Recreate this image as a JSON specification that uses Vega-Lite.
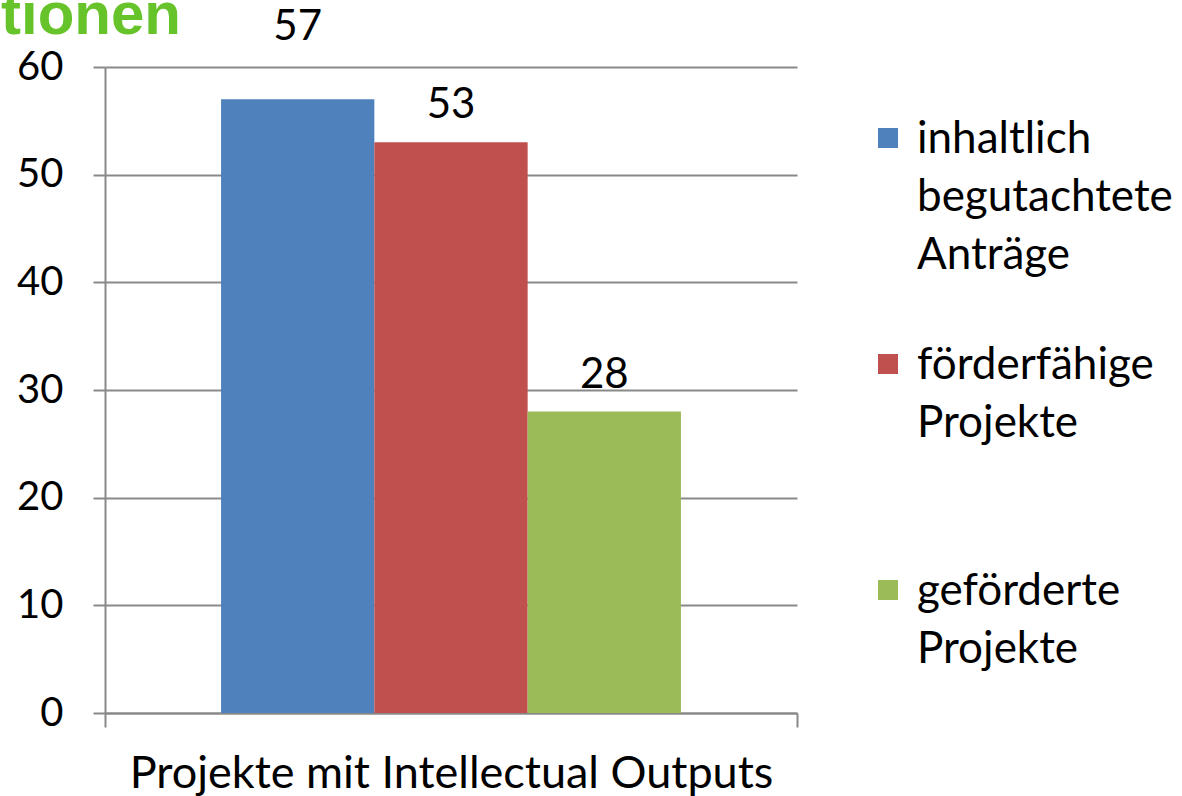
{
  "$schema": "https://vega.github.io/schema/vega-lite/v6.json",
  "width": 692,
  "height": 646,
  "autosize": "none",
  "padding": {"left": 105, "top": 67, "right": 385, "bottom": 83},
  "background": "white",
  "title": {
    "text": "tionen",
    "anchor": "start",
    "frame": "group",
    "color": "#66c42a",
    "font": "Liberation Sans",
    "fontSize": 60,
    "fontWeight": "bold",
    "dx": -104,
    "dy": 88,
    "baseline": "alphabetic",
    "offset": 0
  },
  "data": {
    "values": [
      {"category": "Projekte mit Intellectual Outputs", "series": "inhaltlich begutachtete Anträge", "value": 57},
      {"category": "Projekte mit Intellectual Outputs", "series": "förderfähige Projekte", "value": 53},
      {"category": "Projekte mit Intellectual Outputs", "series": "geförderte Projekte", "value": 28}
    ]
  },
  "encoding": {
    "x": {
      "field": "category",
      "type": "nominal",
      "scale": {"paddingInner": 0, "paddingOuter": 0},
      "axis": {
        "title": null,
        "labelAngle": 0,
        "labelFont": "Lato",
        "labelFontSize": 45,
        "labelColor": "black",
        "labelPadding": 24,
        "labelLimit": 1000,
        "tickBand": "extent",
        "tickSize": 14,
        "tickColor": "#898989",
        "tickWidth": 2,
        "domainColor": "#898989",
        "domainWidth": 2
      }
    },
    "xOffset": {
      "field": "series",
      "type": "nominal",
      "sort": ["inhaltlich begutachtete Anträge", "förderfähige Projekte", "geförderte Projekte"],
      "scale": {"paddingInner": 0, "paddingOuter": 0.757}
    },
    "y": {
      "field": "value",
      "type": "quantitative",
      "scale": {"domain": [0, 60]},
      "axis": {
        "title": null,
        "values": [0, 10, 20, 30, 40, 50, 60],
        "labelFont": "Lato",
        "labelFontSize": 40,
        "labelColor": "black",
        "labelPadding": 30,
        "tickSize": 12,
        "tickColor": "#898989",
        "tickWidth": 2,
        "domainColor": "#898989",
        "domainWidth": 2,
        "gridColor": "#898989",
        "gridWidth": 2
      }
    }
  },
  "layer": [
    {
      "mark": {"type": "bar"},
      "encoding": {
        "color": {
          "field": "series",
          "type": "nominal",
          "scale": {
            "domain": ["inhaltlich begutachtete Anträge", "förderfähige Projekte", "geförderte Projekte"],
            "range": ["#4f81bd", "#c0504d", "#9bbb59"]
          },
          "legend": {
            "title": null,
            "orient": "none",
            "legendX": 761,
            "legendY": 49,
            "symbolType": "square",
            "symbolSize": 400,
            "symbolStrokeWidth": 0,
            "labelFont": "Lato",
            "labelFontSize": 44,
            "labelColor": "black",
            "labelBaseline": "top",
            "labelOffset": 7,
            "labelLimit": 400,
            "rowPadding": 64,
            "labelExpr": "datum.label == 'inhaltlich begutachtete Anträge' ? ['inhaltlich', 'begutachtete', 'Anträge'] : [split(datum.label, ' ')[0], split(datum.label, ' ')[1], '']",
            "encode": {
              "labels": {"update": {"lineHeight": {"value": 58}, "dy": {"value": -20}}}
            }
          }
        }
      }
    },
    {
      "transform": [{"filter": "datum.value < 55"}],
      "mark": {"type": "text", "dy": -37, "font": "Lato", "fontSize": 42, "color": "black"},
      "encoding": {"text": {"field": "value", "type": "quantitative"}}
    },
    {
      "transform": [{"filter": "datum.value >= 55"}],
      "mark": {"type": "text", "dy": -72, "font": "Lato", "fontSize": 42, "color": "black"},
      "encoding": {"text": {"field": "value", "type": "quantitative"}}
    }
  ],
  "config": {"view": {"stroke": null}}
}
